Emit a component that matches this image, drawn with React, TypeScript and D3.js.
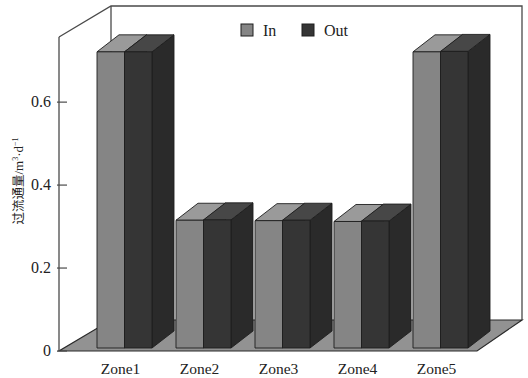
import React from "react";
import * as d3 from "d3";

const zones = ["Zone1", "Zone2", "Zone3", "Zone4", "Zone5"];
const series = ["In", "Out"];
const inValues = [0.714, 0.308, 0.307, 0.305, 0.714];
const outValues = [0.714, 0.309, 0.308, 0.306, 0.715];
const yTicks = [0, 0.2, 0.4, 0.6];

const W = 528;
const H = 378;
const axisX = 59;
const floorY = 351;
const topY = 37;
const wallDX = 52;
const wallDY = -31;
const barDX = 22;
const barDY = -17;
const barShift = 3;

const colors: Record<string, { front: string; top: string; side: string }> = {
  In: { front: "#858585", top: "#9a9a9a", side: "#6e6e6e" },
  Out: { front: "#353535", top: "#474747", side: "#2a2a2a" },
};

export default function App() {
  const y = d3.scaleLinear().domain([0, 0.757]).range([floorY, topY]);
  const x = d3
    .scaleBand<string>()
    .domain(zones)
    .range([85, 480])
    .paddingInner(24 / 79)
    .paddingOuter(12 / 79);
  const xs = d3.scaleBand<string>().domain(series).range([0, x.bandwidth()]);
  const data: Record<string, number[]> = { In: inValues, Out: outValues };

  const font = "'Liberation Serif', 'Times New Roman', serif";
  const lineC = "#4a4a4a";

  const bars: React.ReactNode[] = [];
  zones.forEach((z, i) => {
    series.forEach((s) => {
      const v = data[s][i];
      const x0 = (x(z) as number) + (xs(s) as number);
      const x1 = x0 + xs.bandwidth();
      const yb = y(0) - barShift;
      const yt = y(v) - barShift;
      const c = colors[s];
      const p = (pts: [number, number][]) => pts.map((q) => q.join(",")).join(" ");
      bars.push(
        <g key={z + s} stroke="#1e1e1e" strokeWidth={0.9} strokeLinejoin="round">
          <polygon
            points={p([
              [x1, yt],
              [x1 + barDX, yt + barDY],
              [x1 + barDX, yb + barDY],
              [x1, yb],
            ])}
            fill={c.side}
          />
          <polygon
            points={p([
              [x0, yt],
              [x0 + barDX, yt + barDY],
              [x1 + barDX, yt + barDY],
              [x1, yt],
            ])}
            fill={c.top}
          />
          <rect x={x0} y={yt} width={x1 - x0} height={yb - yt} fill={c.front} />
        </g>
      );
    });
  });

  const floorPts = [
    [axisX, floorY],
    [477, floorY],
    [axisX + 411 + wallDX, floorY + wallDY],
    [axisX + wallDX, floorY + wallDY],
  ]
    .map((q) => q.join(","))
    .join(" ");

  return (
    <svg width={W} height={H} style={{ position: "absolute", left: 0, top: 0, background: "#fff" }}>
      {/* back wall */}
      <polyline
        points={`${axisX},${topY} ${axisX + wallDX},${topY + wallDY} ${522},${topY + wallDY} ${522},${floorY + wallDY}`}
        fill="none"
        stroke={lineC}
        strokeWidth={1.3}
      />
      <line
        x1={axisX + wallDX}
        y1={topY + wallDY}
        x2={axisX + wallDX}
        y2={floorY + wallDY}
        stroke={lineC}
        strokeWidth={1.3}
      />
      {/* floor */}
      <polygon points={floorPts} fill="#929292" stroke="#2a2a2a" strokeWidth={1.2} />
      {bars}
      {/* y axis */}
      <line x1={axisX} y1={topY} x2={axisX} y2={floorY} stroke={lineC} strokeWidth={1.3} />
      {yTicks.map((t) => (
        <g key={t}>
          <line x1={57} x2={67} y1={y(t)} y2={y(t)} stroke={lineC} strokeWidth={1.2} />
          <text x={51} y={y(t)} dy="0.33em" textAnchor="end" fontFamily={font} fontSize={16} fill="#222">
            {t === 0 ? "0" : t.toFixed(1)}
          </text>
        </g>
      ))}
      {/* x labels */}
      {zones.map((z) => (
        <text
          key={z}
          x={(x(z) as number) + x.bandwidth() / 2 - 4}
          y={374}
          textAnchor="middle"
          fontFamily={font}
          fontSize={15.5}
          fill="#222"
        >
          {z}
        </text>
      ))}
      {/* y label */}
      <text
        transform="translate(23,181) rotate(-90)"
        textAnchor="middle"
        fontFamily="'Liberation Serif', 'Noto Sans CJK SC', serif"
        fontSize={13}
        fill="#222"
      >
        <tspan fontFamily="'Noto Sans CJK SC'" fontSize={12.5}>过流通量</tspan>
        <tspan>/m</tspan>
        <tspan fontSize={8} dy={-5}>3</tspan>
        <tspan dy={5}>·d</tspan>
        <tspan fontSize={8} dy={-5}>−1</tspan>
      </text>
      {/* legend */}
      {series.map((s, i) => {
        const lx = [241, 302][i];
        return (
          <g key={s}>
            <rect x={lx} y={24} width={12} height={12} fill={colors[s].front} stroke="#1e1e1e" strokeWidth={1} />
            <text x={lx + 22} y={35.5} fontFamily={font} fontSize={16} fill="#222">
              {s}
            </text>
          </g>
        );
      })}
    </svg>
  );
}
